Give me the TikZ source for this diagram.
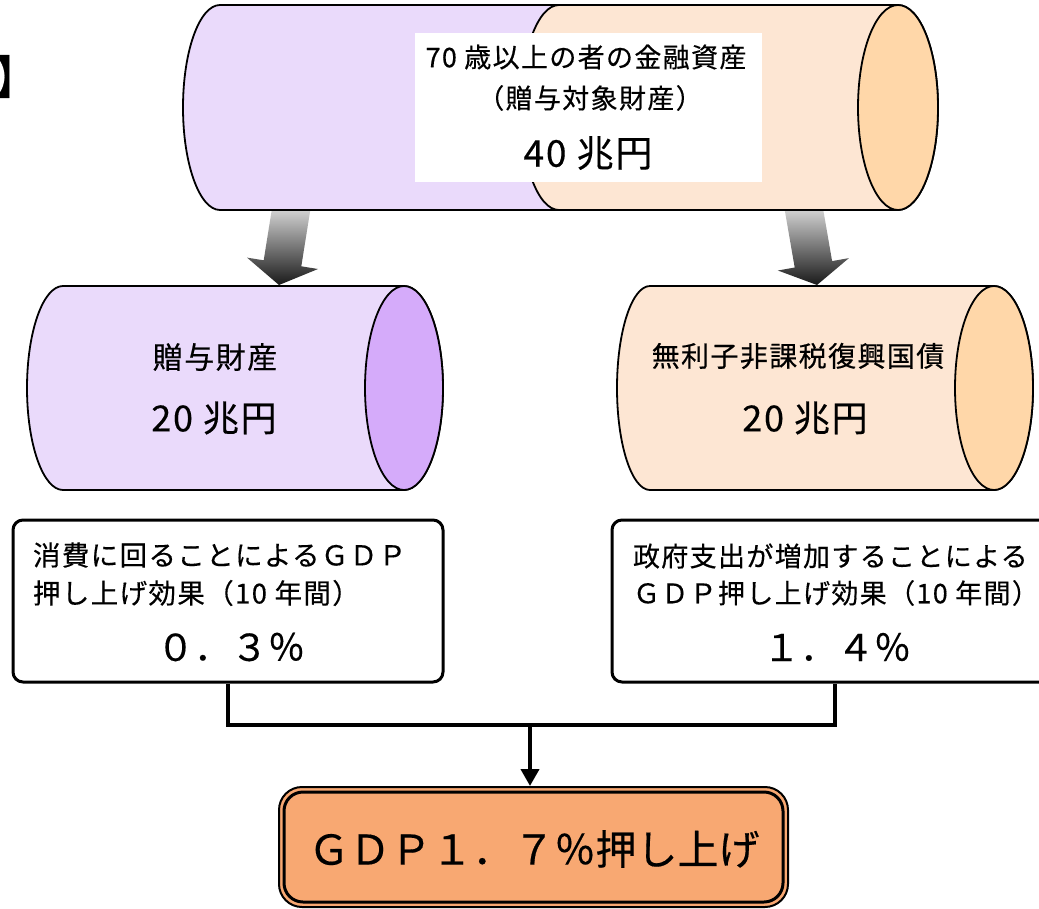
\documentclass[tikz,border=0pt]{standalone}
\usepackage{fontspec}
\usetikzlibrary{arrows.meta}
\newfontfamily\jp[LetterSpace=5, FakeBold=0.4]{Noto Sans CJK JP}
\newfontfamily\jpb[FakeBold=0.4]{Noto Sans CJK JP}
\definecolor{pbody}{HTML}{EADAFB}
\definecolor{pend}{HTML}{D5ABFA}
\definecolor{obody}{HTML}{FDE6D3}
\definecolor{oend}{HTML}{FFD7A9}
\definecolor{gbox}{HTML}{F8A872}
\tikzset{
  cyl/.style={draw=black, line width=1.8pt},
  txt/.style={inner sep=0pt, outer sep=0pt, text=black},
  effbox/.style={draw=black, line width=3pt, rounded corners=10pt, fill=white, inner sep=0pt},
  conn/.style={draw=black, line width=4.5pt},
  garrow/.style={shade, top color=gray!12, bottom color=black!90, draw=none},
}
\begin{document}
\begin{tikzpicture}[x=1pt,y=-1pt]
\useasboundingbox (0,0) rectangle (1039,908);
\fill[white] (0,0) rectangle (1039,908);

% title bracket (cut off at left edge)
\node[txt, anchor=base east] (title) at (40,94) {\jpb\fontsize{46}{46}\selectfont 】};

% grey block arrows
\path[garrow] (311.4,203.1) -- (301.3,266.3) -- (318.0,269.0) -- (279,285) -- (247.0,257.6) -- (263.7,260.3) -- (273.8,197.1) -- cycle;
\path[garrow] (821.0,196.9) -- (832.1,261.1) -- (848.9,258.1) -- (817,285) -- (777.9,270.5) -- (794.7,267.5) -- (783.6,203.5) -- cycle;

% top cylinder: purple part
\path[cyl, fill=pbody] (220,5) arc[start angle=270, end angle=90, x radius=37, y radius=102.5] -- (620,210) -- (620,5) -- cycle;
% top cylinder: orange part
\path[cyl, fill=obody] (898,5) -- (559,5) arc[start angle=270, end angle=90, x radius=38, y radius=102.5] -- (898,210) arc[start angle=90, end angle=-90, x radius=40, y radius=102.5];
\draw[cyl, fill=oend] (898,107.5) ellipse[x radius=40, y radius=102.5];
\node[fill=white, inner sep=0pt, minimum width=347pt, minimum height=149pt] (tbox) at (588.5,107.5) {};
\node[txt] (t1) at (586,57) {\jp\fontsize{27}{27}\selectfont 70 歳以上の者の金融資産};
\node[txt] (t2) at (590,98) {\jp\fontsize{27}{27}\selectfont （贈与対象財産）};
\node[txt] (t3) at (588,153) {\jp\fontsize{37}{37}\selectfont 40 兆円};

% second row: left cylinder
\path[cyl, fill=pbody] (404,286) -- (63,286) arc[start angle=270, end angle=90, x radius=36, y radius=102] -- (404,490) arc[start angle=90, end angle=-90, x radius=39, y radius=102];
\draw[cyl, fill=pend] (404,388) ellipse[x radius=39, y radius=102];
\node[txt] (g1) at (215,357) {\jp\fontsize{30}{30}\selectfont 贈与財産};
\node[txt] (g2) at (214,418) {\jp\fontsize{36}{36}\selectfont 20 兆円};

% second row: right cylinder
\path[cyl, fill=obody] (994,286) -- (650,286) arc[start angle=270, end angle=90, x radius=33, y radius=102] -- (994,490) arc[start angle=90, end angle=-90, x radius=39, y radius=102];
\draw[cyl, fill=oend] (994,388) ellipse[x radius=39, y radius=102];
\node[txt] (b1) at (798,356) {\jp\fontsize{28}{28}\selectfont 無利子非課税復興国債};
\node[txt] (b2) at (805,418) {\jp\fontsize{36}{36}\selectfont 20 兆円};

% effect boxes
\node[effbox, minimum width=430pt, minimum height=162pt] (lbox) at (228,601) {};
\node[effbox, minimum width=446pt, minimum height=162pt] (rbox) at (835,601) {};
\node[txt, anchor=west] (l1) at (33,555) {\jp\fontsize{27.5}{27.5}\selectfont 消費に回ることによるＧＤＰ};
\node[txt, anchor=west] (l2) at (33,593) {\jp\fontsize{27.5}{27.5}\selectfont 押し上げ効果（10 年間）};
\node[txt] (l3) at (231,647) {\jpb\fontsize{37}{37}\selectfont ０．３％};
\node[txt, anchor=west] (r1) at (633,556) {\jp\fontsize{27}{27}\selectfont 政府支出が増加することによる};
\node[txt, anchor=west] (r2) at (633,593) {\jp\fontsize{27}{27}\selectfont ＧＤＰ押し上げ効果（10 年間）};
\node[txt] (r3) at (837,647) {\jpb\fontsize{37}{37}\selectfont １．４％};

% result box
\node[draw=black, line width=2pt, rounded corners=23pt, fill=gbox, minimum width=509pt, minimum height=120pt, inner sep=0pt] (gdp) at (533.5,847) {};
\draw[line width=3pt, rounded corners=19pt] (284,792) rectangle (783,902);
\node[txt] (gdpt) at (534,849) {\jpb\fontsize{41}{41}\selectfont ＧＤＰ１．７％押し上げ};

% connectors
\coordinate (join) at (530,725);
\draw[conn] (lbox.south) -- (lbox.south |- join) -- (rbox.south |- join) -- (rbox.south);
\draw[draw=black, line width=4pt, -{Triangle[width=18pt, length=17pt]}] (join) -- (join |- gdp.north);
\end{tikzpicture}
\end{document}
